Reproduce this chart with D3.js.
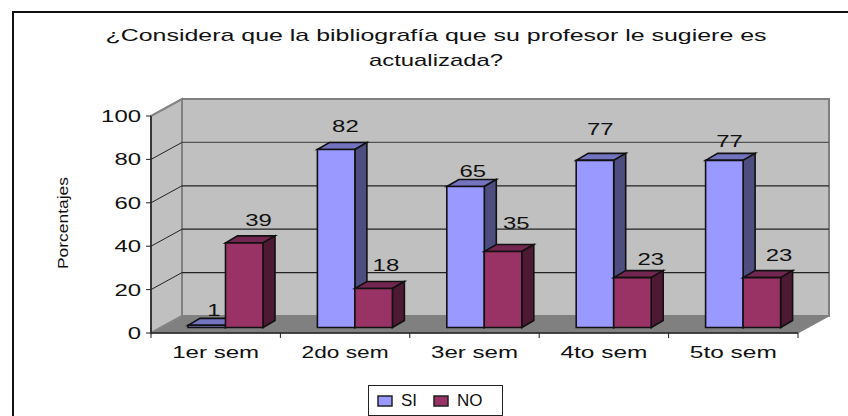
<!DOCTYPE html>
<html><head><meta charset="utf-8">
<script src="https://cdn.jsdelivr.net/npm/d3@7"></script>
<style>html,body{margin:0;background:#fff}svg{display:block}text{font-family:"Liberation Sans",Arial,sans-serif;fill:#111}</style>
</head><body><svg id="c" width="848" height="416"></svg>
<script>
const categories=["1er sem","2do sem","3er sem","4to sem","5to sem"];
const siValues=[1,82,65,77,77];
const noValues=[39,18,35,23,23];
const yTicks=[0,20,40,60,80,100];
const titleLines=["¿Considera que la bibliografía que su profesor le sugiere es","actualizada?"];
const svg=d3.select("#c");
const x=d3.scaleBand().domain(categories).range([151,798]);
const y=d3.scaleLinear().domain([0,100]).range([333,116]);
const DX=31,DY=-17;
const barW=37.5, barLead=37, bdx=12, bdy=-7, bx=0, by=-5.5;
// outer frame
svg.append("path").attr("d","M13,416V12H848").attr("fill","none").attr("stroke","#111").attr("stroke-width",2);
// title
titleLines.forEach((t,i)=>svg.append("text").attr("x",436).attr("y",41+i*24.5).attr("text-anchor","middle").attr("font-size",17).attr("textLength",i?134:661).attr("lengthAdjust","spacingAndGlyphs").text(t));
const poly=(pts,fill,stroke,sw)=>svg.append("polygon").attr("points",pts.map(p=>p.join(",")).join(" ")).attr("fill",fill).attr("stroke",stroke).attr("stroke-width",sw);
const [x0,x1]=x.range(), y0=y(0), y100=y(100);
// walls
poly([[x0+DX,y100+DY],[x1+DX,y100+DY],[x1+DX,y0+DY],[x0+DX,y0+DY]],"#c0c0c0","#808080",2);
poly([[x0,y100],[x0+DX,y100+DY],[x0+DX,y0+DY],[x0,y0]],"#c0c0c0","#808080",2);
poly([[x0,y0],[x0+DX,y0+DY],[x1+DX,y0+DY],[x1,y0]],"#808080","#808080",1);
// grid
yTicks.filter(d=>d>0&&d<100).forEach(d=>{
 svg.append("line").attr("x1",x0+DX).attr("x2",x1+DX).attr("y1",y(d)+DY).attr("y2",y(d)+DY).attr("stroke",d==80?"#555":"#222").attr("stroke-width",1.2);
});
yTicks.forEach(d=>{
 svg.append("line").attr("x1",x0).attr("x2",x0+DX).attr("y1",y(d)).attr("y2",y(d)+DY).attr("stroke",d==100||d==0?"#888":"#222").attr("stroke-width",1);
 svg.append("line").attr("x1",x0-5).attr("x2",x0).attr("y1",y(d)).attr("y2",y(d)).attr("stroke","#222");
 svg.append("text").attr("x",141).attr("y",y(d)+6).attr("text-anchor","end").attr("font-size",17).attr("textLength",String(d).length*13.3).attr("lengthAdjust","spacingAndGlyphs").text(d);
});
// axes
svg.append("line").attr("x1",x0).attr("x2",x0).attr("y1",y100).attr("y2",y0).attr("stroke","#222").attr("stroke-width",1.5);
svg.append("line").attr("x1",x0).attr("x2",x1).attr("y1",y0).attr("y2",y0).attr("stroke","#222").attr("stroke-width",1.5);
svg.append("line").attr("x1",x1).attr("x2",x1+DX).attr("y1",y0).attr("y2",y0+DY).attr("stroke","#fff").attr("stroke-width",0);
[...categories.map(c=>x(c)),x1].forEach(v=>svg.append("line").attr("x1",v).attr("x2",v).attr("y1",y0).attr("y2",y0+5).attr("stroke","#222"));
categories.forEach(c=>svg.append("text").attr("x",x(c)+x.bandwidth()/2).attr("y",358).attr("text-anchor","middle").attr("font-size",17).attr("textLength",87).attr("lengthAdjust","spacingAndGlyphs").text(c));
// y title
svg.append("text").attr("transform","translate(68,223) rotate(-90)").attr("text-anchor","middle").attr("font-size",15).attr("textLength",92).attr("lengthAdjust","spacingAndGlyphs").text("Porcentajes");
// bars
const h=v=>y0-y(v);
function bar(left,v,front,top,side){
 const base=y0+by, t=base-h(v), r=left+barW;
 poly([[left,t],[left+bdx,t+bdy],[r+bdx,t+bdy],[r,t]],top,"#111",1.6);
 poly([[r,t],[r+bdx,t+bdy],[r+bdx,base+bdy],[r,base]],side,"#111",1.6);
 poly([[left,t],[r,t],[r,base],[left,base]],front,"#111",1.6);
}
const noOff=[17,17,17,17,17];
categories.forEach((c,i)=>{
 const l=x(c)+barLead;
 bar(l,siValues[i],"#9999ff","#7373bf","#4d4d80");
 bar(l+barW,noValues[i],"#993366","#732650","#4d1933");
});
// labels
const siLabelDx=[26,32,37,37,36], siLabelDy=[-13,-25,-10,-19,-19];
const noLabelDx=[34,30,34,30,32], noLabelDy=[-23,-25,-26,-25,-26];
categories.forEach((c,i)=>{
 const l=x(c)+barLead;
 const lab=(xx,yy,v)=>svg.append("text").attr("x",xx).attr("y",yy).attr("text-anchor","middle").attr("font-size",17).attr("textLength",String(v).length*13.3).attr("lengthAdjust","spacingAndGlyphs").text(v);
 lab(l+[26,28,26,24,24][i],[316,132,177,135,147][i]-0,siValues[i]);
 lab(l+barW+[33,31,32,37,36][i],[226,271,229,265,261][i],noValues[i]);
});
// legend
svg.append("rect").attr("x",368.5).attr("y",385.5).attr("width",134).attr("height",30).attr("fill","#fff").attr("stroke","#222");
const legend=[["SI","#9999ff",378,401],["NO","#993366",434,457]];
legend.forEach(([t,f,sx,tx])=>{
 svg.append("rect").attr("x",sx).attr("y",396).attr("width",14).attr("height",10).attr("fill",f).attr("stroke","#222").attr("stroke-width",1.5);
 svg.append("text").attr("x",tx).attr("y",406).attr("font-size",17).text(t);
});
</script></body></html>
